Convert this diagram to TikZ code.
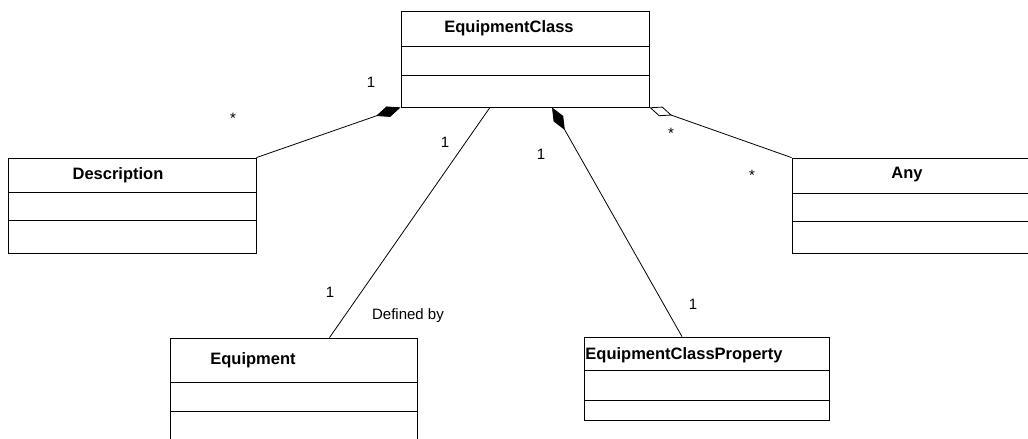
\documentclass[tikz,border=0pt]{standalone}
\usepackage{fontspec}
\setmainfont{Liberation Sans}
\usepackage{xcolor}
\usetikzlibrary{arrows.meta,positioning,calc}

\begin{document}
\begin{tikzpicture}[
  x=1pt, y=-1pt,
  classbox/.style={draw,line width=0.8pt,inner sep=0pt},
  title/.style={font=\fontsize{16.5}{19}\selectfont\bfseries,inner sep=0pt},
  mult/.style={font=\fontsize{15}{18}\selectfont,inner sep=0pt},
  assoc/.style={line width=0.8pt},
  comp/.style={assoc,-{Diamond[length=26pt,width=11pt,fill=black]}},
  aggr/.style={assoc,-{Diamond[length=24pt,width=10pt,open,fill=white]}}
]
  \useasboundingbox (0,0) rectangle (1028,439);

  % classes
  \node[classbox,minimum width=248pt,minimum height=96pt] (ec) at (525,59) {};
  \node[classbox,minimum width=248pt,minimum height=95pt] (desc) at (132,205.5) {};
  \node[classbox,minimum width=248pt,minimum height=95pt] (any) at (916,205.5) {};
  \node[classbox,minimum width=247pt,minimum height=107pt] (eq) at (293.5,391.5) {};
  \node[classbox,minimum width=245pt,minimum height=83pt] (ecp) at (706.5,378.5) {};

  % compartments
  \foreach \n/\a/\b in {ec/36/65, desc/35/63, any/36/64, eq/45/74, ecp/34/64} {
    \draw[line width=0.6pt] ([yshift=-\a pt]\n.north west) -- ([yshift=-\a pt]\n.north east);
    \draw[line width=0.6pt] ([yshift=-\b pt]\n.north west) -- ([yshift=-\b pt]\n.north east);
  }

  \node[title] (ec-t) at (509,28) {EquipmentClass};
  \node[title] (desc-t) at (118,175) {Description};
  \node[title] (any-t) at (907,175) {Any};
  \node[title] (eq-t) at (253,360) {Equipment};
  \node[title] (ecp-t) at (684,355) {EquipmentClassProperty};

  % associations
  \draw[comp] (desc.north east) -- (ec.south west);
  \draw[assoc] ([xshift=-35pt]ec.south) -- ([xshift=36pt]eq.north);
  \draw[comp] ([xshift=-24.5pt]ecp.north) -- ([xshift=27pt]ec.south);
  \draw[aggr] (any.north west) -- (ec.south east);

  % multiplicities
  \node[mult] (m1) at (371,82) {1};
  \node[mult] (m2) at (233,118) {*};
  \node[mult] (m3) at (445,142) {1};
  \node[mult] (m4) at (330,292) {1};
  \node[mult] (lbl) at (408,316) {Defined by};
  \node[mult] (m5) at (541,154) {1};
  \node[mult] (m6) at (693,304) {1};
  \node[mult] (m7) at (671,133) {*};
  \node[mult] (m8) at (752,175) {*};
\end{tikzpicture}
\end{document}
